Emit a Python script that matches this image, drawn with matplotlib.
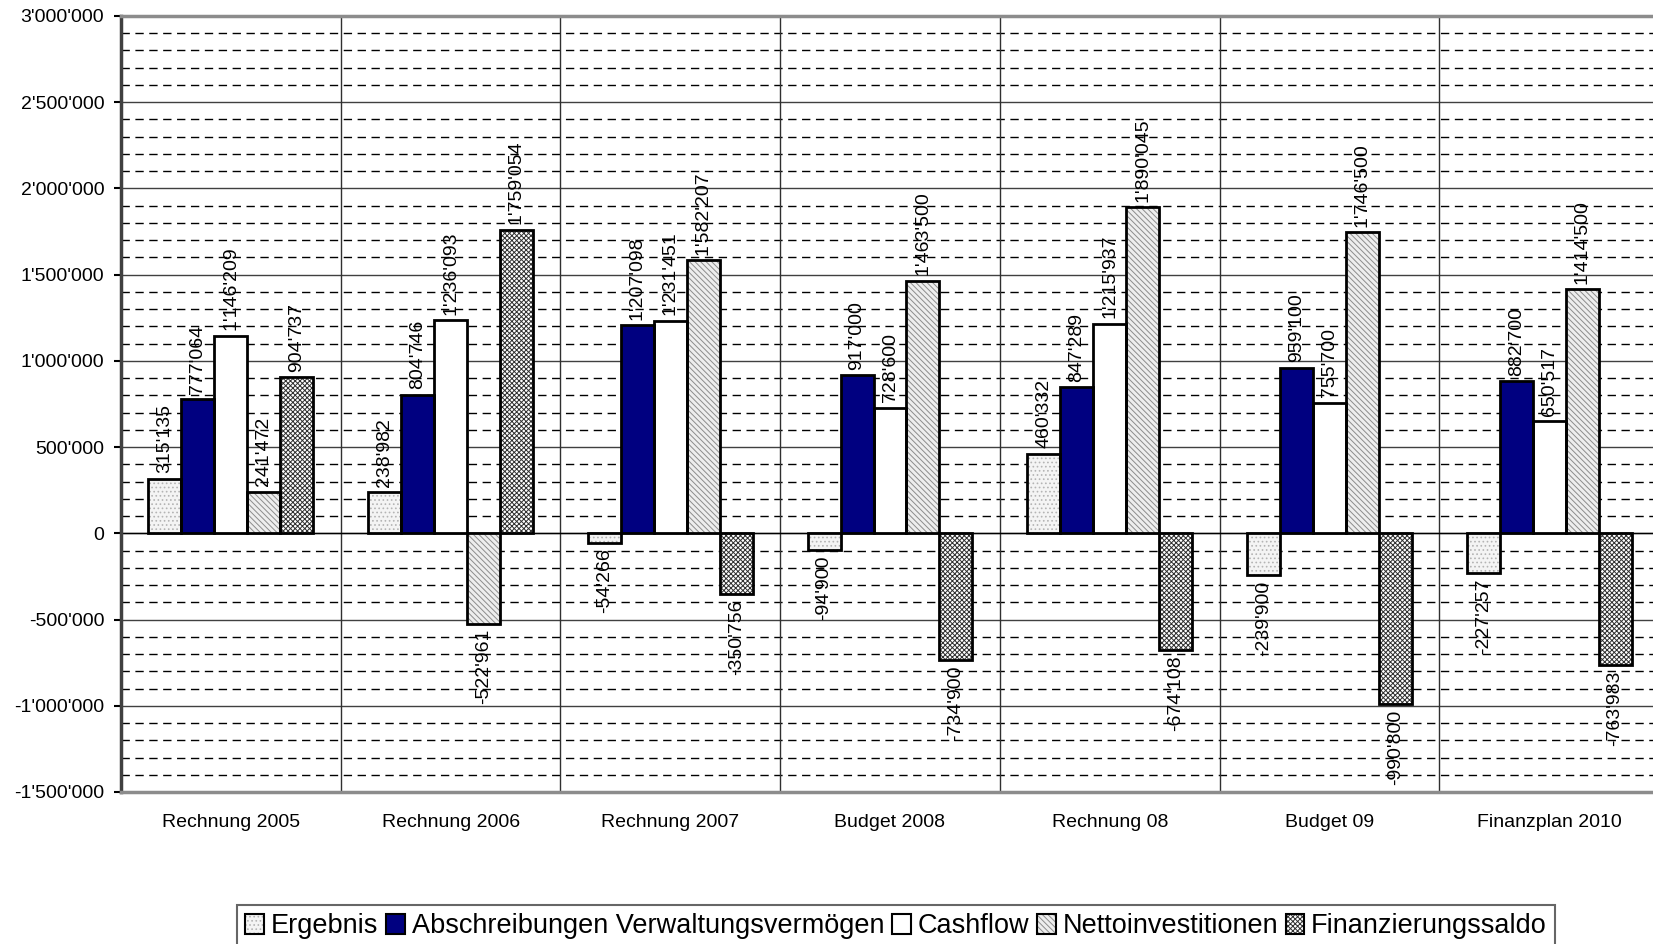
import numpy as np
import matplotlib
matplotlib.use("Agg")
import matplotlib.pyplot as plt
from matplotlib.patches import Patch
from matplotlib.ticker import MultipleLocator, FuncFormatter

plt.rcParams["font.family"] = ["Liberation Sans", "DejaVu Sans"]
plt.rcParams["hatch.linewidth"] = 0.7

categories = ["Rechnung 2005", "Rechnung 2006", "Rechnung 2007", "Budget 2008",
              "Rechnung 08", "Budget 09", "Finanzplan 2010"]
series_names = ["Ergebnis", "Abschreibungen Verwaltungsvermögen", "Cashflow",
                "Nettoinvestitionen", "Finanzierungssaldo"]
ergebnis = [315135, 238982, -54266, -94900, 460332, -239900, -227257]
abschreibungen = [777064, 804746, 1207098, 917000, 847289, 959100, 882700]
cashflow = [1146209, 1236093, 1231451, 728600, 1215937, 755700, 650517]
nettoinvest = [241472, -522961, 1582207, 1463500, 1890045, 1746500, 1414500]
finanzierung = [904737, 1759054, -350756, -734900, -674108, -990800, -763983]
series = [ergebnis, abschreibungen, cashflow, nettoinvest, finanzierung]

# fill colour, hatch, hatch colour
styles = [
    ("#f4f4f4", "....", "#b4b4b4"),
    ("#000080", None, "#000080"),
    ("#ffffff", None, "#ffffff"),
    ("#eeeeee", "\\\\\\\\\\\\", "#8c8c8c"),
    ("#ffffff", "xxxxxxx", "#303030"),
]


def fmt(v, pos=None):
    s = f"{abs(int(round(v))):,}".replace(",", "'")
    return ("-" if v < 0 else "") + s


fig = plt.figure(figsize=(16.53, 9.44), dpi=100)
ax = fig.add_axes([121 / 1653, 1 - 792 / 944, 1538 / 1653, 776 / 944])

n = len(categories)
x = np.arange(n)
bw = 0.15
handles = []
for i, (vals, (fc, hatch, hc)) in enumerate(zip(series, styles)):
    xs = x - 2 * bw + i * bw
    ax.bar(xs, vals, bw, color=fc, hatch=hatch, edgecolor=hc, linewidth=0, zorder=3)
    ax.bar(xs, vals, bw, fill=False, edgecolor="black", linewidth=2, zorder=4)
    for xi, v in zip(xs, vals):
        if v >= 0:
            ax.annotate(fmt(v), (xi, v), xytext=(0, 4), textcoords="offset points",
                        rotation=90, ha="center", va="bottom", fontsize=14, zorder=5)
        else:
            ax.annotate(fmt(v), (xi, v), xytext=(0, -4), textcoords="offset points",
                        rotation=90, ha="center", va="top", fontsize=14, zorder=5)
    handles.append((Patch(facecolor=fc, hatch=hatch, edgecolor=hc, linewidth=0),
                    Patch(fill=False, edgecolor="black", linewidth=1.5)))

ax.set_xlim(-0.5, n - 0.5)
ax.set_ylim(-1500000, 3000000)
ax.yaxis.set_major_locator(MultipleLocator(500000))
ax.yaxis.set_minor_locator(MultipleLocator(100000))
ax.yaxis.set_major_formatter(FuncFormatter(fmt))
ax.grid(True, which="major", axis="y", color="#404040", linewidth=1, zorder=1)
ax.grid(True, which="minor", axis="y", color="black", linewidth=1,
        linestyle=(0, (6, 4)), zorder=1)
ax.set_axisbelow(True)
for b in np.arange(0.5, n - 0.5, 1):
    ax.axvline(b, color="#303030", linewidth=1, zorder=1)
ax.axhline(0, color="black", linewidth=1, zorder=2)

ax.set_xticks(x)
ax.set_xticklabels(categories, fontsize=14)
ax.tick_params(axis="x", length=0, pad=16)
ax.tick_params(axis="y", which="major", labelsize=14, length=5, width=1.5,
               direction="out", pad=7)
ax.tick_params(axis="y", which="minor", length=0)

ax.spines["left"].set_color("#404040")
ax.spines["left"].set_linewidth(2.5)
ax.spines["top"].set_color("#8c8c8c")
ax.spines["top"].set_linewidth(2.5)
ax.spines["bottom"].set_color("#8c8c8c")
ax.spines["bottom"].set_linewidth(2.5)
ax.spines["right"].set_visible(False)

leg = fig.legend(handles, series_names, loc="upper left",
                 bbox_to_anchor=(237 / 1653, 1 - 905 / 944), ncol=5,
                 fontsize=19.5, frameon=True, fancybox=False, edgecolor="#404040",
                 handlelength=0.7, handleheight=0.75, handletextpad=0.25,
                 columnspacing=0.28, borderpad=0.3, borderaxespad=0)
leg.get_frame().set_linewidth(1.5)

fig.savefig("out.png", dpi=100, facecolor="white")
